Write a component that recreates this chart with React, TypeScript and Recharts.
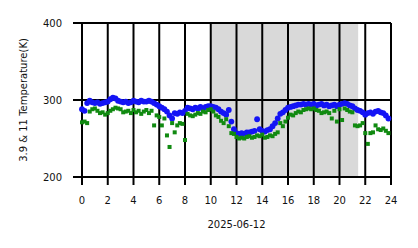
import React from 'react';
import { ComposedChart, Scatter, XAxis, YAxis, CartesianGrid, ReferenceArea } from 'recharts';

// one reading every 0.2 h, 00:00 .. 23:48
const T39 = [
  288, 286, 296, 299, 297, 296, 297, 295, 296, 297,
  298, 301, 303, 302, 299, 298, 297, 298, 296, 297,
  299, 298, 297, 299, 298, 298, 299, 298, 296, 294,
  292, 290, 288, 285, 280, 276, 283, 282, 284, 283,
  286, 290, 289, 288, 290, 289, 291, 288, 291, 292,
  292, 291, 290, 288, 285, 283, 281, 287, 272, 262,
  257, 256, 257, 256, 258, 258, 259, 260, 275, 262,
  260, 259, 261, 262, 266, 270, 276, 282, 284, 287,
  290, 291, 292, 293, 294, 294, 295, 294, 295, 294,
  295, 293, 294, 295, 293, 294, 292, 293, 294, 292,
  294, 295, 296, 295, 293, 292, 289, 287, 286, 284,
  281, 283, 284, 282, 285, 286, 284, 283, 280, 276,
];

const T11 = [
  271, 272, 270, 285, 288, 289, 286, 283, 284, 281,
  283, 286, 288, 290, 289, 288, 284, 285, 286, 283,
  287, 284, 286, 282, 285, 287, 283, 286, 267, 280,
  278, 267, 276, 254, 239, 270, 258, 267, 270, 269,
  248, 282, 280, 279, 281, 283, 282, 285, 284, 287,
  288, 285, 280, 278, 273, 270, 275, 266, 257, 256,
  252, 250, 251, 250, 252, 253, 251, 252, 254, 253,
  255, 251, 252, 254, 253, 256, 258, 270, 266, 272,
  277, 281, 280, 283, 285, 284, 287, 288, 289, 288,
  289, 287, 286, 283, 284, 285, 283, 276, 286, 272,
  288, 274, 289, 287, 285, 284, 267, 266, 267, 270,
  257, 243, 257, 258, 267, 262, 261, 263, 260, 257,
];

const HOURS = T39.map((_, i) => i * 0.2);
const X_TICKS = [0, 2, 4, 6, 8, 10, 12, 14, 16, 18, 20, 22, 24];
const Y_TICKS = [200, 300, 400];
const NIGHT = [10, 21.45];

const blueData = HOURS.map((t, i) => ({ t, v: T39[i] }));
const greenData = HOURS.map((t, i) => ({ t, v: T11[i] }));

const BlueDot = (p: any) => <circle cx={p.cx} cy={p.cy} r={2.9} fill="#1414f5" />;
const GreenSq = (p: any) => (
  <rect x={p.cx - 2} y={p.cy - 2} width={4} height={4} fill="#118a11" />
);

const tickStyle = { fill: '#111', fontSize: 10, fontFamily: 'DejaVu Sans' };

export default function App() {
  return (
    <div style={{ position: 'absolute', left: 0, top: 0, width: 418, height: 248, background: '#fff', fontFamily: 'DejaVu Sans' }}>
      <ComposedChart width={418} height={248} margin={{ top: 23, right: 27, bottom: 0, left: 0 }}>
        <ReferenceArea
          x1={NIGHT[0]}
          x2={NIGHT[1]}
          y1={200}
          y2={400}
          fill="#d9d9d9"
          fillOpacity={1}
          stroke="none"
          zIndex={-200}
        />
        <CartesianGrid stroke="#000" strokeWidth={2} />
        <XAxis
          type="number"
          dataKey="t"
          domain={[0, 24]}
          ticks={X_TICKS}
          interval={0}
          height={71}
          tick={tickStyle}
          tickSize={8}
          tickMargin={12}
          tickLine={{ stroke: '#000', strokeWidth: 2 }}
          axisLine={{ stroke: '#000', strokeWidth: 2 }}
          label={{ value: '2025-06-12', position: 'insideBottom', offset: 20, fill: '#111', fontSize: 10 }}
        />
        <YAxis
          type="number"
          dataKey="v"
          domain={[200, 400]}
          ticks={Y_TICKS}
          interval={0}
          width={82}
          tick={tickStyle}
          tickSize={9}
          tickMargin={11}
          tickLine={{ stroke: '#000', strokeWidth: 2 }}
          axisLine={{ stroke: '#000', strokeWidth: 2 }}
          label={{
            value: '3.9 & 11 Temperature(K)',
            angle: -90,
            position: 'insideLeft',
            offset: 23,
            fill: '#111',
            fontSize: 10,
            style: { textAnchor: 'middle' },
          }}
        />
        <Scatter data={blueData} shape={BlueDot} isAnimationActive={false} />
        <Scatter data={greenData} shape={GreenSq} isAnimationActive={false} />
      </ComposedChart>
    </div>
  );
}
